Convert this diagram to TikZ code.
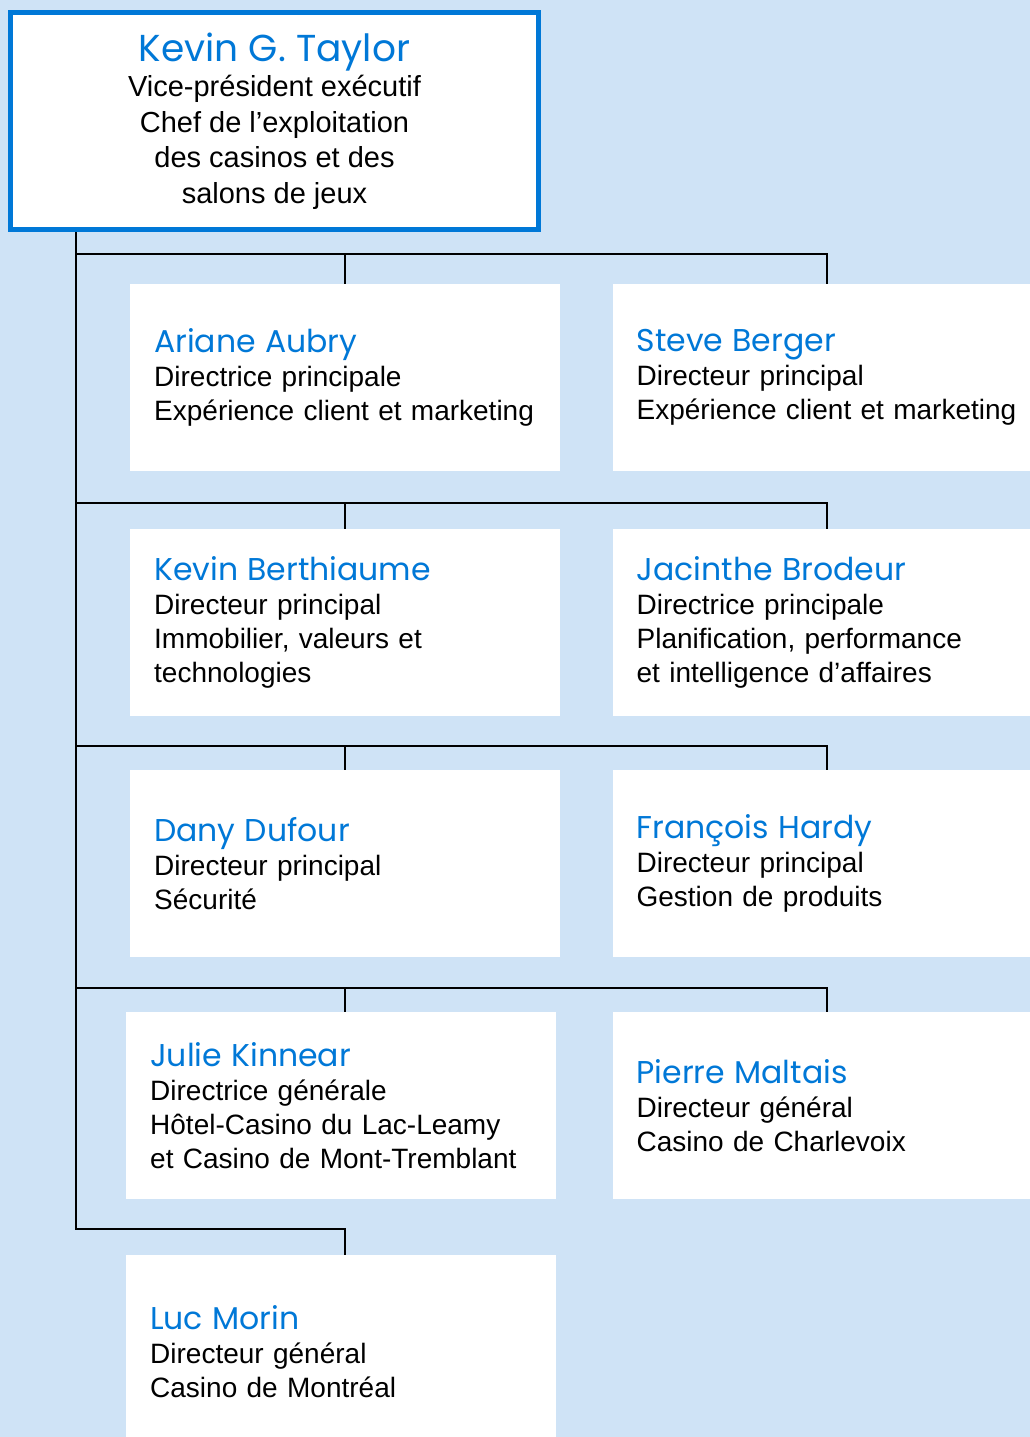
\documentclass[tikz,border=0pt]{standalone}
\usepackage{fontspec}
\setmainfont{Liberation Sans}
\newfontfamily\namefont{Poppins}
\usetikzlibrary{positioning}

\definecolor{lqblue}{RGB}{0,120,215}
\definecolor{lqback}{RGB}{207,227,246}
\newcommand\who[1]{{\namefont\fontsize{31.5}{34}\selectfont\color{lqblue}#1}\\}

\begin{document}
\begin{tikzpicture}[x=1pt,y=-1pt,
  card/.style={fill=white,anchor=north west,minimum width=430pt,minimum height=187pt,
    text width=382pt,inner xsep=24pt,align=left,font=\fontsize{28}{34}\selectfont},
  chief/.style={draw=lqblue,line width=5pt,fill=white,minimum width=528pt,minimum height=217pt,
    align=center,font=\fontsize{29}{35.5}\selectfont},
  link/.style={line width=1.8pt}]

\useasboundingbox[fill=lqback] (0,0) rectangle (1030,1437);

\node[chief] (kt) at (274.5,121) {{\namefont\fontsize{37.5}{40}\selectfont\color{lqblue}Kevin G. Taylor}\\
  Vice-président exécutif\\Chef de l’exploitation\\des casinos et des\\salons de jeux};

\node[card] (aa) at (130,284) {\who{Ariane Aubry}Directrice principale\\Expérience client et marketing};
\node[card,right=52pt of aa] (sb) {\who{Steve Berger}Directeur principal\\Expérience client et marketing};

\node[card] (kb) at (130,529) {\who{Kevin Berthiaume}Directeur principal\\Immobilier, valeurs et\\technologies};
\node[card,right=52pt of kb] (jb) {\who{Jacinthe Brodeur}Directrice principale\\Planification, performance\\et intelligence d’affaires};

\node[card] (dd) at (130,770) {\who{Dany Dufour}Directeur principal\\Sécurité};
\node[card,right=52pt of dd] (fh) {\who{François Hardy}Directeur principal\\Gestion de produits};

\node[card] (jk) at (126,1012) {\who{Julie Kinnear}Directrice générale\\Hôtel-Casino du Lac-Leamy\\et Casino de Mont-Tremblant};
\node[card,right=56pt of jk] (pm) {\who{Pierre Maltais}Directeur général\\Casino de Charlevoix};

\node[card,minimum height=192pt] (lm) at (126,1255) {\who{Luc Morin}Directeur général\\Casino de Montréal};

\coordinate (t) at (76,0);
\coordinate (dl) at (345,0);
\coordinate (dr) at (827,0);

\foreach \l/\r/\g in {aa/sb/30,kb/jb/26,dd/fh/24,jk/pm/24}{
  \coordinate (bus) at ([yshift=\g pt]\l.north);
  \draw[link] (t |- bus) -- (dr |- bus) -- (\r.north -| dr);
  \draw[link] (dl |- bus) -- (\l.north -| dl);
}
\coordinate (bus) at ([yshift=26pt]lm.north);
\draw[link] (kt.south -| t) -- (t |- bus) -- (dl |- bus) -- (lm.north -| dl);

\end{tikzpicture}
\end{document}
